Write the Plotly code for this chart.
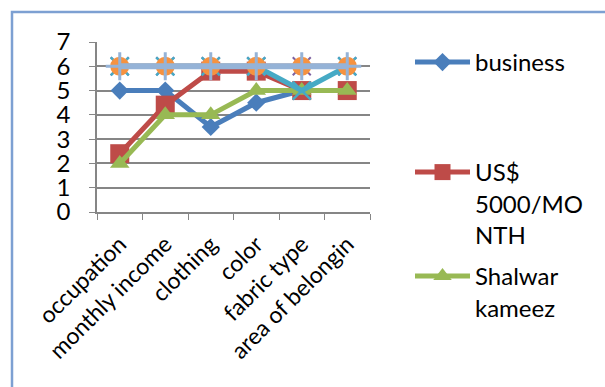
import plotly.graph_objects as go

categories = ["occupation", "monthly income", "clothing", "color", "fabric type", "area of belongin"]
business = [5, 5, 3.5, 4.5, 5, 5]
us5000 = [2.4, 4.4, 5.8, 5.8, 5, 5]
shalwar = [2, 4, 4, 5, 5, 5]
series4 = [6, 6, 6, 6, 6, 6]
series5 = [6, 6, 6, 6, 5, 6]
series6 = [6, 6, 6, 6, 6, 6]
series7 = [6, 6, 6, 6, 6, 6]
y_ticks = [0, 1, 2, 3, 4, 5, 6, 7]

FONT = "Lato"
fig = go.Figure()

def add(y, name, color, symbol, size, legend=None, show=False, mline=None, lw=5, mlw=2):
    marker = dict(symbol=symbol, size=size, color=color)
    if mline is not None:
        marker["line"] = dict(color=mline, width=mlw)
    fig.add_trace(go.Scatter(
        x=categories, y=y, name=name, mode="lines+markers",
        line=dict(color=color, width=lw), marker=marker,
        showlegend=show, legend=legend if legend else "legend"))

add(business, "business", "#4A7EBB", "diamond", 14, "legend", True)
add(us5000, "US$<br>5000/MO<br>NTH", "#BE4B48", "square", 19, "legend2", True)
add(shalwar, "Shalwar<br>kameez", "#98B954", "triangle-up", 17, "legend3", True)
add(series4, "s4", "#7D60A0", "x-thin-open", 18, mline="#7D60A0")
add(series5, "s5", "#46AAC5", "x-thin-open", 18, mline="#46AAC5", mlw=2.5)
add(series6, "s6", "#F69240", "circle", 19)
add(series7, "s7", "#95B3D7", "cross-thin-open", 20, mline="#95B3D7", lw=6, mlw=3)

L, R, T, B = 97, 370, 42, 212
W, H = 605, 387
def px(x): return (x - L) / (R - L)
def py(y): return (B - y) / (B - T)

leg_common = dict(font=dict(family=FONT, size=24, color="black"), bgcolor="rgba(0,0,0,0)",
                  xanchor="left", yanchor="top", valign="top", itemwidth=55,
                  tracegroupgap=0)
fig.update_layout(
    width=W, height=H,
    margin=dict(l=L, r=W - R, t=T, b=H - B),
    paper_bgcolor="white", plot_bgcolor="white",
    font=dict(family=FONT, size=22, color="black"),
    legend=dict(x=px(410), y=py(40), **leg_common),
    legend2=dict(x=px(410), y=py(150), **leg_common),
    legend3=dict(x=px(410), y=py(254), **leg_common),
    xaxis=dict(type="category", tickangle=-45, ticks="outside", ticklen=6,
               tickcolor="#868686", tickson="boundaries", showgrid=False,
               showline=True, linecolor="#868686", linewidth=1.5,
               tickfont=dict(family=FONT, size=23), range=[-0.5, 5.5],
               ticklabelstandoff=8),
    yaxis=dict(range=[0, 7], tickvals=y_ticks, ticks="outside", ticklen=6,
               tickcolor="#868686", showgrid=True, gridcolor="#868686", gridwidth=1.5,
               showline=True, linecolor="#868686", linewidth=1.5, zeroline=False,
               tickfont=dict(family=FONT, size=24), ticklabelstandoff=14),
    shapes=[dict(type="rect", xref="paper", yref="paper",
                 x0=px(12), x1=px(640), y0=py(430), y1=py(12),
                 line=dict(color="#7DA0D2", width=2.5), layer="below")],
)
fig.write_html("out.html")
